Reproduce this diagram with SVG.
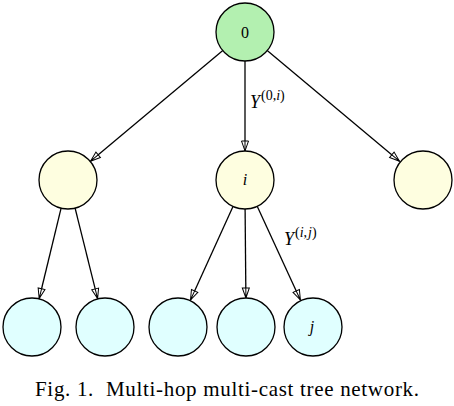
<svg xmlns="http://www.w3.org/2000/svg" width="454" height="406" viewBox="0 0 454 406">
<style>
.n{stroke:#000;stroke-width:1.3}
.root{fill:#b3f0b0}
.mid{fill:#fefee0}
.leaf{fill:#e0ffff}
.e{stroke:#000;stroke-width:1.3;fill:none;marker-end:url(#arr)}
.t{font-family:"Liberation Serif","DejaVu Serif",serif;font-size:16px;fill:#000}
.y{font-family:"Liberation Serif","DejaVu Serif",serif;font-size:18px;fill:#000}
.s{font-size:14px}
.it{font-style:italic}
.cap{font-family:"Liberation Serif","DejaVu Serif",serif;font-size:21px;fill:#000}
</style>
<defs>
<marker id="arr" viewBox="-11 -5 12 10" refX="0" refY="0" markerWidth="12" markerHeight="10" markerUnits="userSpaceOnUse" orient="auto">
<path d="M0,0 L-10,-3.5 L-10,3.5 Z M-10,0 L0,0" fill="#fff" stroke="#000" stroke-width="1"/>
</marker>
</defs>
<g id="connectors">
<line class="e" x1="222.8" y1="50.6" x2="90.5" y2="161.2"/>
<line class="e" x1="245" y1="61" x2="245" y2="151"/>
<line class="e" x1="267.2" y1="50.6" x2="399.5" y2="161.2"/>
<line class="e" x1="61.1" y1="208.2" x2="39.2" y2="298.5"/>
<line class="e" x1="75.1" y1="208.1" x2="97.6" y2="298.6"/>
<line class="e" x1="233" y1="206.4" x2="190.5" y2="300"/>
<line class="e" x1="245.1" y1="209" x2="245.9" y2="298"/>
<line class="e" x1="257.2" y1="206.3" x2="300.4" y2="300"/>
</g>
<g id="node-0"><circle class="n root" cx="245" cy="32" r="29"/><text class="t" x="245" y="38" text-anchor="middle">0</text></g>
<g id="node-a"><circle class="n mid" cx="68" cy="180" r="29"/></g>
<g id="node-i"><circle class="n mid" cx="245" cy="180" r="29"/><text class="t it" x="245" y="185" text-anchor="middle">i</text></g>
<g id="node-b"><circle class="n mid" cx="423" cy="180" r="29"/></g>
<g id="node-c"><circle class="n leaf" cx="32" cy="327" r="29"/></g>
<g id="node-d"><circle class="n leaf" cx="105" cy="327" r="29"/></g>
<g id="node-e"><circle class="n leaf" cx="178" cy="327" r="29"/></g>
<g id="node-f"><circle class="n leaf" cx="246" cy="327" r="29"/></g>
<g id="node-j"><circle class="n leaf" cx="313" cy="327" r="29"/><text class="t it" x="312" y="332" text-anchor="middle">j</text></g>
<g id="labels">
<text class="y" x="250" y="108"><tspan class="it">Y</tspan><tspan class="s" dx="1" dy="-8">(0,</tspan><tspan class="s it">i</tspan><tspan class="s">)</tspan></text>
<text class="y" x="284" y="245"><tspan class="it">Y</tspan><tspan class="s" dx="1" dy="-8">(</tspan><tspan class="s it">i</tspan><tspan class="s">,</tspan><tspan class="s it" dx="1">j</tspan><tspan class="s">)</tspan></text>
</g>
<text class="cap" x="35" y="396" textLength="384" lengthAdjust="spacing" xml:space="preserve">Fig. 1.  Multi-hop multi-cast tree network.</text>
</svg>
